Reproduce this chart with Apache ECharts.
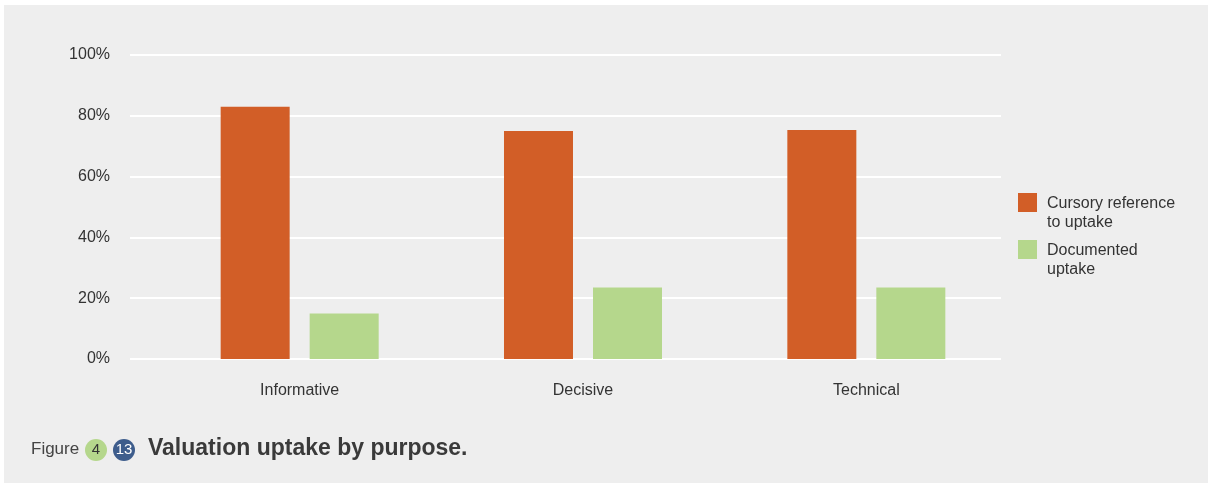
<!DOCTYPE html>
<html>
<head>
<meta charset="utf-8">
<script src="https://cdn.jsdelivr.net/npm/echarts@6/dist/echarts.min.js"></script>
<style>
  html, body { margin: 0; padding: 0; background: #ffffff; }
  #chart { width: 1211px; height: 486px; }
</style>
</head>
<body>
<div id="chart"></div>
<script>
// values (percent)
var categories = ['Informative', 'Decisive', 'Technical'];
var cursoryUptake = [83, 75, 75.3];
var documentedUptake = [15, 23.5, 23.5];
var seriesNames = ['Cursory reference\nto uptake', 'Documented\nuptake'];
var yMin = 0, yMax = 100, yStep = 20;

var font = 'Liberation Sans, Arial, Helvetica, sans-serif';
var orange = '#d25e27';
var green = '#b5d78c';

// square in the top half of a tall box, so the two-line text starts level with it
var legendIcon = 'path://M0,0h19v19h-19z M0,40h0.01v0.01h-0.01z';

var myChart = echarts.init(document.getElementById('chart'));

function legendFor(name, top) {
    return {
        data: [name], left: 1018, top: top, orient: 'vertical', padding: 0,
        itemWidth: 19, itemHeight: 40, icon: legendIcon,
        textStyle: { fontSize: 16, lineHeight: 19, color: '#333333', padding: [0, 0, 0, 5] }
    };
}

var option = {
    backgroundColor: '#ffffff',
    animation: false,
    textStyle: { fontFamily: font },
    graphic: [
        { type: 'rect', z: -10, shape: { x: 4, y: 5, width: 1204, height: 478 }, style: { fill: '#eeeeee' } },
        { type: 'text', left: 31, top: 441, style: { text: 'Figure', fontSize: 17, fontFamily: font, fill: '#444444' } },
        { type: 'circle', shape: { cx: 96, cy: 450, r: 11 }, style: { fill: green } },
        { type: 'text', x: 96, y: 450, style: { text: '4', fontSize: 15, fontFamily: font, fill: '#333333', align: 'center', verticalAlign: 'middle' } },
        { type: 'circle', shape: { cx: 124, cy: 450, r: 11 }, style: { fill: '#3e5d8c' } },
        { type: 'text', x: 124, y: 450, style: { text: '13', fontSize: 15, fontFamily: font, fill: '#ffffff', align: 'center', verticalAlign: 'middle' } },
        { type: 'text', left: 148, top: 437, style: { text: 'Valuation uptake by purpose.', fontSize: 23, fontWeight: 'bold', fontFamily: font, fill: '#3a3a3a' } }
    ],
    legend: [
        legendFor(seriesNames[0], 193),
        legendFor(seriesNames[1], 240)
    ],
    grid: [
        { left: 130, right: 210, top: 55, bottom: 127 },
        { left: 158, right: 203, top: 55, bottom: 127 }
    ],
    xAxis: [
        { gridIndex: 0, type: 'category', data: categories, show: false },
        {
            gridIndex: 1, type: 'category', data: categories,
            axisLine: { show: false }, axisTick: { show: false },
            axisLabel: { fontSize: 16, color: '#333333', margin: 24 }
        }
    ],
    yAxis: [
        {
            gridIndex: 0, type: 'value', min: yMin, max: yMax, interval: yStep,
            axisLine: { show: false }, axisTick: { show: false },
            axisLabel: { formatter: '{value}%', fontSize: 16, color: '#333333', margin: 20, padding: [4, 0, 0, 0] },
            splitLine: { lineStyle: { color: '#ffffff', width: 2 } }
        },
        { gridIndex: 1, type: 'value', min: yMin, max: yMax, show: false }
    ],
    series: [
        {
            name: seriesNames[0], type: 'bar', xAxisIndex: 1, yAxisIndex: 1,
            data: cursoryUptake, barWidth: 69, barGap: '29%',
            itemStyle: { color: orange }
        },
        {
            name: seriesNames[1], type: 'bar', xAxisIndex: 1, yAxisIndex: 1,
            data: documentedUptake, barWidth: 69, barGap: '29%',
            itemStyle: { color: green }
        }
    ]
};

myChart.setOption(option);
</script>
</body>
</html>
